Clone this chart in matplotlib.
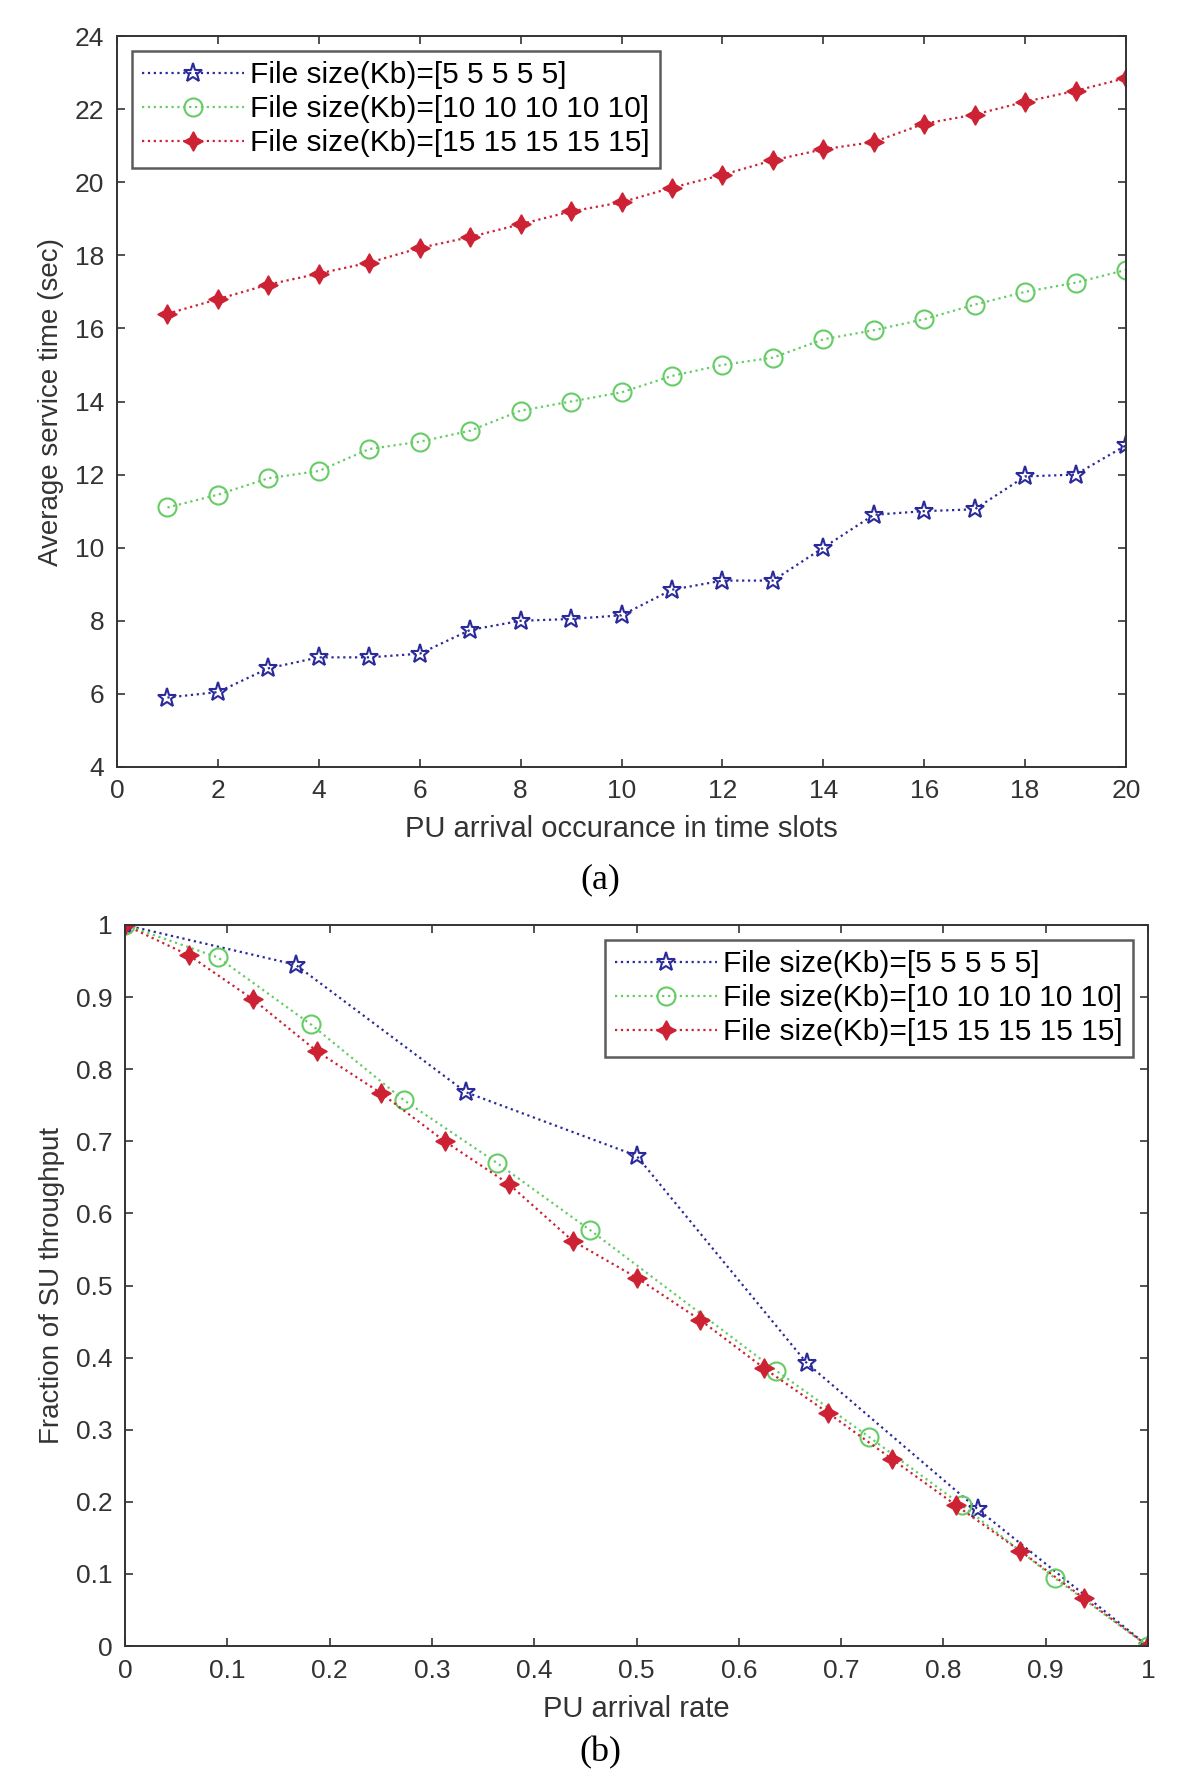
import matplotlib
matplotlib.use("Agg")
import matplotlib.pyplot as plt

plt.rcParams['font.family'] = ['Liberation Sans', 'DejaVu Sans']

# ---- Panel (a) data ----
slots = list(range(1, 21))
a_5 = [5.9, 6.05, 6.7, 7.0, 7.0, 7.1, 7.75, 8.0, 8.05, 8.15,
       8.85, 9.1, 9.1, 10.0, 10.9, 11.0, 11.05, 11.95, 12.0, 12.8]
a_10 = [11.1, 11.45, 11.9, 12.1, 12.7, 12.9, 13.2, 13.75, 14.0, 14.25,
        14.7, 15.0, 15.2, 15.7, 15.95, 16.25, 16.65, 17.0, 17.25, 17.6]
a_15 = [16.4, 16.8, 17.2, 17.5, 17.8, 18.2, 18.5, 18.85, 19.2, 19.45,
        19.85, 20.2, 20.6, 20.9, 21.1, 21.6, 21.85, 22.2, 22.5, 22.85]

# ---- Panel (b) data ----
b_x5 = [0, 1/6, 2/6, 3/6, 4/6, 5/6, 1]
b_y5 = [1.0, 0.945, 0.768, 0.68, 0.392, 0.19, 0.0]
b_x10 = [0, 0.0909, 0.1818, 0.2727, 0.3636, 0.4545, 0.6364, 0.7273, 0.8182, 0.9091, 1]
b_y10 = [1.0, 0.955, 0.862, 0.757, 0.67, 0.577, 0.382, 0.29, 0.195, 0.094, 0.0]
b_x15 = [0, 0.0625, 0.125, 0.1875, 0.25, 0.3125, 0.375, 0.4375, 0.5, 0.5625,
         0.625, 0.6875, 0.75, 0.8125, 0.875, 0.9375, 1]
b_y15 = [1.0, 0.958, 0.897, 0.825, 0.767, 0.70, 0.641, 0.562, 0.511, 0.452,
         0.385, 0.323, 0.259, 0.195, 0.132, 0.066, 0.0]

labels = ['File size(Kb)=[5 5 5 5 5]', 'File size(Kb)=[10 10 10 10 10]',
          'File size(Kb)=[15 15 15 15 15]']

c_blue = '#2a2a9a'
c_green = '#66cc66'
c_red = '#cc2233'
c_axis = '#333333'

fig = plt.figure(figsize=(12, 17.79), dpi=100)
W, H = 1200, 1779
axA = fig.add_axes([117 / W, 1 - 767 / H, (1126 - 117) / W, (767 - 36) / H])
axB = fig.add_axes([125 / W, 1 - 1646 / H, (1148 - 125) / W, (1646 - 925) / H])

def style(ax):
    for s in ax.spines.values():
        s.set_linewidth(1.4)
        s.set_color(c_axis)
    ax.tick_params(direction='in', length=6, width=1.2, labelsize=19, pad=9,
                   top=True, right=True, colors=c_axis)

def plot_series(ax, x5, y5, x10, y10, x15, y15):
    ax.plot(x5, y5, linestyle=':', color=c_blue, marker='*', markersize=14,
            markerfacecolor='none', markeredgecolor=c_blue, markeredgewidth=1.5,
            linewidth=1.6, label=labels[0])
    ax.plot(x10, y10, linestyle=':', color=c_green, marker='o', markersize=13,
            markerfacecolor='none', markeredgecolor=c_green, markeredgewidth=1.5,
            linewidth=1.6, label=labels[1])
    ax.plot(x15, y15, linestyle=':', color=c_red, marker=(4, 1, 0), markersize=14,
            markerfacecolor=c_red, markeredgecolor=c_red, markeredgewidth=1.0,
            linewidth=1.6, label=labels[2])

leg_kw = dict(fontsize=21.5, frameon=True, fancybox=False, edgecolor=c_axis,
              borderaxespad=0.5, handlelength=3.4, labelspacing=0.2,
              borderpad=0.35, handletextpad=0.2)

plot_series(axA, slots, a_5, slots, a_10, slots, a_15)
axA.set_xlim(0, 20)
axA.set_ylim(4, 24)
axA.set_xticks(range(0, 21, 2))
axA.set_yticks(range(4, 25, 2))
axA.set_xlabel('PU arrival occurance in time slots', fontsize=21, color=c_axis, labelpad=8)
axA.set_ylabel('Average service time (sec)', fontsize=20, color=c_axis, labelpad=8)
style(axA)
legA = axA.legend(loc='upper left', **leg_kw)
legA.get_frame().set_linewidth(1.8)

plot_series(axB, b_x5, b_y5, b_x10, b_y10, b_x15, b_y15)
axB.set_xlim(0, 1)
axB.set_ylim(0, 1)
ticks_b = [i / 10 for i in range(11)]
ticklabels_b = ['0', '0.1', '0.2', '0.3', '0.4', '0.5', '0.6', '0.7', '0.8', '0.9', '1']
axB.set_xticks(ticks_b)
axB.set_xticklabels(ticklabels_b)
axB.set_yticks(ticks_b)
axB.set_yticklabels(ticklabels_b)
axB.set_xlabel('PU arrival rate', fontsize=21, color=c_axis, labelpad=9)
axB.set_ylabel('Fraction of SU throughput', fontsize=20, color=c_axis, labelpad=8)
style(axB)
legB = axB.legend(loc='upper right', **leg_kw)
legB.get_frame().set_linewidth(1.8)

fig.text(0.5, 1 - 880 / H, '(a)', ha='center', va='center', fontsize=26,
         family=['Liberation Serif'])
fig.text(0.5, 1 - 1753 / H, '(b)', ha='center', va='center', fontsize=26,
         family=['Liberation Serif'])

fig.savefig('out.png', dpi=100, facecolor='white')
